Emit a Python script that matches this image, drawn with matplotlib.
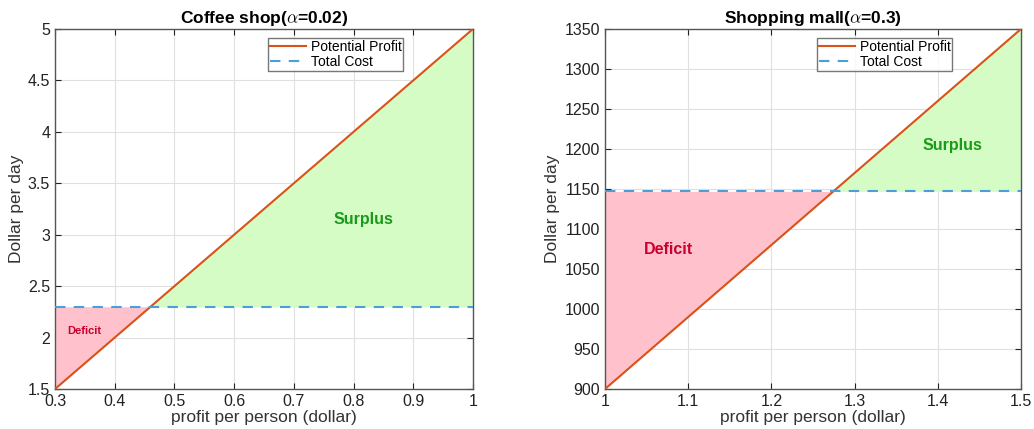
import numpy as np
import matplotlib
matplotlib.use("Agg")
import matplotlib.pyplot as plt

plt.rcParams['font.family'] = ['Liberation Sans', 'DejaVu Sans']
plt.rcParams['mathtext.fontset'] = 'cm'

# Coffee shop
cs_x = [0.3, 1.0]
cs_profit = [1.5, 5.0]
cs_cost = 2.3
cs_title = r'Coffee shop($\alpha$=0.02)'
cs_xticks = [0.3, 0.4, 0.5, 0.6, 0.7, 0.8, 0.9, 1.0]
cs_xticklabels = ['0.3', '0.4', '0.5', '0.6', '0.7', '0.8', '0.9', '1']
cs_yticks = [1.5, 2, 2.5, 3, 3.5, 4, 4.5, 5]
cs_yticklabels = ['1.5', '2', '2.5', '3', '3.5', '4', '4.5', '5']

# Shopping mall
sm_x = [1.0, 1.5]
sm_profit = [900, 1350]
sm_cost = 1147
sm_title = r'Shopping mall($\alpha$=0.3)'
sm_xticks = [1.0, 1.1, 1.2, 1.3, 1.4, 1.5]
sm_xticklabels = ['1', '1.1', '1.2', '1.3', '1.4', '1.5']
sm_yticks = list(range(900, 1351, 50))
sm_yticklabels = [str(v) for v in sm_yticks]

ORANGE = '#D95319'
BLUE = '#4A9FD8'
PINK = '#FFC2CC'
GREEN = '#D6FCC6'

fig = plt.figure(figsize=(10.34, 4.29), dpi=100)
ax1 = fig.add_axes([0.0532, 0.0932, 0.4042, 0.8392])
ax2 = fig.add_axes([0.5851, 0.0932, 0.4023, 0.8392])

def draw(ax, xs, prof, cost, title, xt, xtl, yt, ytl, sur_pos, def_pos, def_fs):
    x = np.linspace(xs[0], xs[1], 400)
    p = np.interp(x, xs, prof)
    c = np.full_like(x, cost)
    ax.fill_between(x, p, c, where=p <= c, color=PINK, interpolate=True, lw=0, zorder=1)
    ax.fill_between(x, p, c, where=p >= c, color=GREEN, interpolate=True, lw=0, zorder=1)
    ax.plot(xs, prof, color=ORANGE, lw=1.5, label='Potential Profit', zorder=3)
    ax.plot(xs, [cost, cost], color=BLUE, lw=1.5, ls=(0, (5, 4)), label='Total Cost', zorder=3)
    ax.set_xlim(xs[0], xs[1])
    ax.set_ylim(yt[0], yt[-1])
    ax.set_xticks(xt)
    ax.set_xticklabels(xtl)
    ax.set_yticks(yt)
    ax.set_yticklabels(ytl)
    ax.grid(True, color='#E0E0E0', lw=0.8, zorder=0)
    ax.set_axisbelow(True)
    ax.tick_params(direction='in', top=True, right=True, labelsize=11.5, colors='#222222', length=4)
    for s in ax.spines.values():
        s.set_color('#555555')
        s.set_linewidth(1.0)
    ax.set_title(title, fontsize=12.5, fontweight='bold', pad=4)
    ax.set_xlabel('profit per person (dollar)', fontsize=12.5, color='#333333', labelpad=1)
    ax.set_ylabel('Dollar per day', fontsize=12.5, color='#333333', labelpad=3)
    ax.text(sur_pos[0], sur_pos[1], 'Surplus', color='#1A9A1A', fontsize=11.5,
            fontweight='bold', ha='center', va='center', zorder=4)
    ax.text(def_pos[0], def_pos[1], 'Deficit', color='#C8002E', fontsize=def_fs,
            fontweight='bold', ha='center', va='center', zorder=4)
    leg = ax.legend(loc='upper left', bbox_to_anchor=(0.51, 0.975), fontsize=10,
                    frameon=True, fancybox=False, borderpad=0.15, labelspacing=0.05,
                    handlelength=2.6, handletextpad=0.3, borderaxespad=0)
    leg.get_frame().set_edgecolor('#555555')
    leg.get_frame().set_linewidth(1.0)

draw(ax1, cs_x, cs_profit, cs_cost, cs_title, cs_xticks, cs_xticklabels,
     cs_yticks, cs_yticklabels, (0.817, 3.15), (0.349, 2.06), 8)
draw(ax2, sm_x, sm_profit, sm_cost, sm_title, sm_xticks, sm_xticklabels,
     sm_yticks, sm_yticklabels, (1.418, 1205), (1.076, 1074), 11.5)

fig.savefig('out.png', dpi=100)
